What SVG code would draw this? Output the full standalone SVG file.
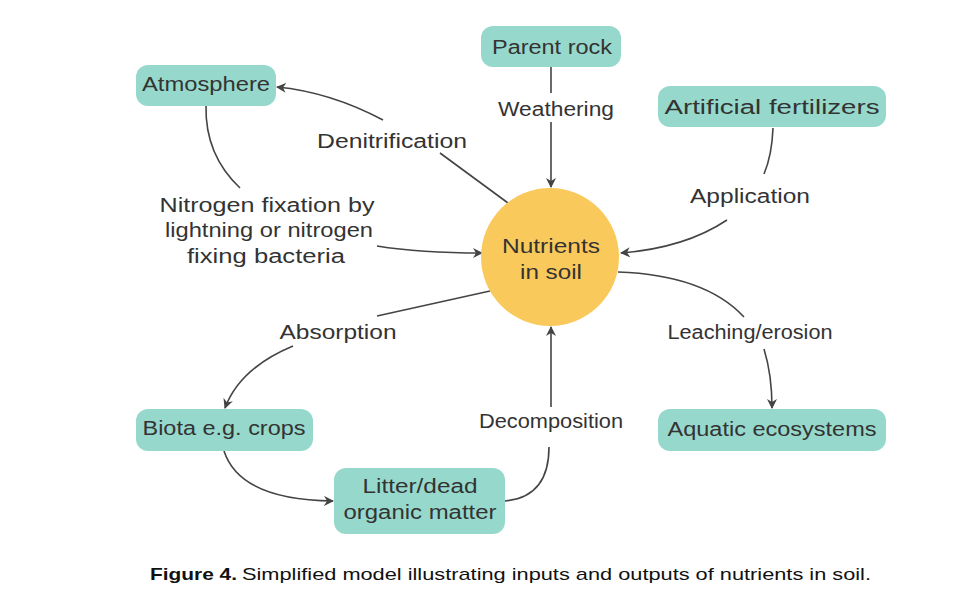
<svg xmlns="http://www.w3.org/2000/svg" width="954" height="613" viewBox="0 0 954 613">
<style>
.box{fill:#96d9cc;}
.t{font-family:"Liberation Sans",Arial,sans-serif;font-size:20px;fill:#333;}
.c{fill:none;stroke:#444;stroke-width:1.6;}
.cap{font-family:"Liberation Sans",Arial,sans-serif;font-size:17px;fill:#111;}
</style>
<defs>
<marker id="ah" viewBox="0 0 10 10" refX="9" refY="5" markerWidth="10" markerHeight="10" markerUnits="userSpaceOnUse" orient="auto">
<path d="M0,0 L10,5 L0,10 L3,5 Z" fill="#444"/>
</marker>
</defs>
<rect width="954" height="613" fill="#fff"/>
<g id="connectors">
<line class="c" x1="551" y1="67" x2="551" y2="93"/>
<line class="c" x1="551" y1="122" x2="551" y2="187" marker-end="url(#ah)"/>
<path class="c" d="M508,203 L440,153"/>
<path class="c" d="M383,120 Q330,92 277,87" marker-end="url(#ah)"/>
<path class="c" d="M206,106 Q205,155 240,188"/>
<path class="c" d="M377,246 Q420,253 482,253" marker-end="url(#ah)"/>
<path class="c" d="M773,128 Q772,155 764,174"/>
<path class="c" d="M727,220 Q685,248 621,253" marker-end="url(#ah)"/>
<path class="c" d="M618,272 Q705,275 744,317"/>
<path class="c" d="M764,349 Q772,375 772,408" marker-end="url(#ah)"/>
<path class="c" d="M490,291 L377,316"/>
<path class="c" d="M293,346 Q240,368 225,408" marker-end="url(#ah)"/>
<path class="c" d="M224,451 Q240,500 333,501" marker-end="url(#ah)"/>
<path class="c" d="M505,501 Q549,497 549,447"/>
<line class="c" x1="551" y1="407" x2="551" y2="327" marker-end="url(#ah)"/>
</g>
<g id="nutrients">
<circle cx="550" cy="257" r="69" fill="#fac95c"/>
<text class="t" x="551" y="253" text-anchor="middle" textLength="98" lengthAdjust="spacingAndGlyphs">Nutrients</text>
<text class="t" x="551" y="279" text-anchor="middle" textLength="62" lengthAdjust="spacingAndGlyphs">in soil</text>
</g>
<g id="atmosphere">
<rect class="box" x="136" y="65" width="140" height="41" rx="12"/>
<text class="t" x="206" y="91" text-anchor="middle" textLength="128" lengthAdjust="spacingAndGlyphs">Atmosphere</text>
</g>
<g id="parent-rock">
<rect class="box" x="481" y="26" width="140" height="41" rx="12"/>
<text class="t" x="552" y="54" text-anchor="middle" textLength="120" lengthAdjust="spacingAndGlyphs">Parent rock</text>
</g>
<g id="artificial-fertilizers">
<rect class="box" x="658" y="86" width="228" height="41" rx="12"/>
<text class="t" x="772" y="114" text-anchor="middle" textLength="215" lengthAdjust="spacingAndGlyphs">Artificial fertilizers</text>
</g>
<g id="biota">
<rect class="box" x="136" y="409" width="177" height="42" rx="12"/>
<text class="t" x="224" y="435" text-anchor="middle" textLength="163" lengthAdjust="spacingAndGlyphs">Biota e.g. crops</text>
</g>
<g id="litter">
<rect class="box" x="334" y="468" width="171" height="66" rx="12"/>
<text class="t" x="420" y="493" text-anchor="middle" textLength="115" lengthAdjust="spacingAndGlyphs">Litter/dead</text>
<text class="t" x="420" y="519" text-anchor="middle" textLength="153" lengthAdjust="spacingAndGlyphs">organic matter</text>
</g>
<g id="aquatic">
<rect class="box" x="658" y="409" width="228" height="42" rx="12"/>
<text class="t" x="772" y="436" text-anchor="middle" textLength="209" lengthAdjust="spacingAndGlyphs">Aquatic ecosystems</text>
</g>
<g id="labels">
<text class="t" x="556" y="116" text-anchor="middle" textLength="116" lengthAdjust="spacingAndGlyphs">Weathering</text>
<text class="t" x="392" y="148" text-anchor="middle" textLength="150" lengthAdjust="spacingAndGlyphs">Denitrification</text>
<text class="t" x="267" y="212" text-anchor="middle" textLength="215" lengthAdjust="spacingAndGlyphs">Nitrogen fixation by</text>
<text class="t" x="269" y="237" text-anchor="middle" textLength="208" lengthAdjust="spacingAndGlyphs">lightning or nitrogen</text>
<text class="t" x="266" y="263" text-anchor="middle" textLength="158" lengthAdjust="spacingAndGlyphs">fixing bacteria</text>
<text class="t" x="750" y="203" text-anchor="middle" textLength="120" lengthAdjust="spacingAndGlyphs">Application</text>
<text class="t" x="338" y="339" text-anchor="middle" textLength="117" lengthAdjust="spacingAndGlyphs">Absorption</text>
<text class="t" x="750" y="339" text-anchor="middle" textLength="165" lengthAdjust="spacingAndGlyphs">Leaching/erosion</text>
<text class="t" x="551" y="428" text-anchor="middle" textLength="144" lengthAdjust="spacingAndGlyphs">Decomposition</text>
</g>
<g id="caption">
<text class="cap" x="150" y="580" font-weight="bold" textLength="87" lengthAdjust="spacingAndGlyphs">Figure 4.</text>
<text class="cap" x="242" y="580" textLength="629" lengthAdjust="spacingAndGlyphs">Simplified model illustrating inputs and outputs of nutrients in soil.</text>
</g>
</svg>
